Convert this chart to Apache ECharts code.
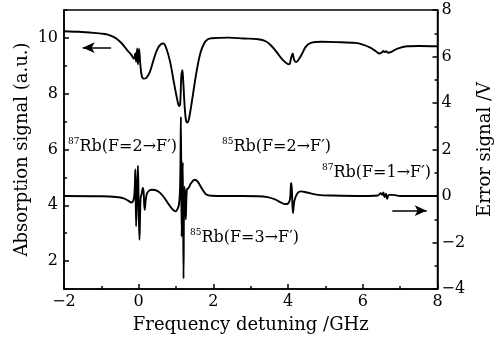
<!DOCTYPE html>
<html>
<head>
<meta charset="utf-8">
<script src="https://cdn.jsdelivr.net/npm/echarts@6/dist/echarts.min.js"></script>
<style>
html,body{margin:0;padding:0;background:#fff;}
#chart{width:502px;height:340px;}
</style>
</head>
<body>
<div id="chart"></div>
<script>
// Absorption signal (left axis)
var absX = [-2.0,-1.6,-1.2,-0.9,-0.75,-0.6,-0.45,-0.32,-0.2,-0.13,-0.09,-0.07,-0.04,-0.02,0.01,0.04,0.08,0.13,0.2,0.3,0.4,0.5,0.6,0.66,0.74,0.84,0.95,1.03,1.08,1.11,1.14,1.17,1.19,1.23,1.27,1.31,1.36,1.45,1.55,1.65,1.75,1.85,1.95,2.4,2.8,3.2,3.4,3.55,3.7,3.85,3.95,4.03,4.08,4.12,4.16,4.21,4.27,4.37,4.47,4.61,4.9,5.3,5.8,6.0,6.2,6.35,6.45,6.52,6.55,6.58,6.62,6.68,6.75,6.9,7.19,7.5,8.0];
var absY = [10.24,10.22,10.18,10.14,10.08,9.98,9.80,9.58,9.40,9.25,9.45,9.15,9.62,9.05,9.60,9.10,8.65,8.54,8.56,8.78,9.22,9.60,9.78,9.80,9.62,9.15,8.35,7.80,7.56,7.62,8.60,8.84,8.50,7.55,7.02,6.97,7.20,7.95,8.80,9.45,9.80,9.95,9.99,10.01,9.98,9.95,9.88,9.72,9.48,9.22,9.10,9.05,9.28,9.44,9.22,9.13,9.20,9.42,9.68,9.82,9.86,9.85,9.82,9.76,9.65,9.52,9.44,9.49,9.53,9.49,9.52,9.47,9.49,9.60,9.70,9.71,9.70];

// Error signal (right axis)
var errX = [-2.0,-1.0,-0.6,-0.4,-0.28,-0.2,-0.14,-0.11,-0.09,-0.07,-0.04,-0.02,0.0,0.02,0.05,0.08,0.11,0.13,0.16,0.22,0.35,0.5,0.65,0.8,0.92,0.99,1.04,1.08,1.11,1.13,1.15,1.18,1.20,1.22,1.24,1.26,1.29,1.34,1.4,1.5,1.58,1.68,1.8,1.95,2.5,3.2,3.45,3.65,3.8,3.92,4.0,4.05,4.08,4.1,4.13,4.17,4.25,4.35,4.5,4.8,5.2,6.0,6.4,6.48,6.52,6.55,6.58,6.62,6.65,6.7,6.8,7.0,8.0];
var errY = [0.0,-0.01,-0.04,-0.10,-0.20,-0.28,-0.18,0.2,1.15,-1.3,0.5,1.30,-0.6,-1.88,-0.1,0.1,0.35,0.2,-0.59,0.1,0.27,0.22,0.0,-0.35,-0.6,-0.66,-0.55,-0.35,0.5,3.4,-1.75,1.45,-3.55,0.4,0.1,-1.0,0.27,0.35,0.55,0.70,0.62,0.35,0.08,0.01,0.0,-0.01,-0.05,-0.15,-0.27,-0.35,-0.32,-0.15,0.56,0.3,-0.73,-0.2,0.12,0.2,0.15,0.05,0.02,0.0,0.02,0.12,0.05,0.15,-0.05,0.1,-0.12,0.05,0.05,0.0,0.0];

// Axis tick labels
var leftCats = ['1','2','3','4','5','6','7','8','9','10','11'];
var leftShown = ['2','4','6','8','10'];

var FONT = 'DejaVu Serif';
function pairs(xs, ys){ var o=[]; for(var i=0;i<xs.length;i++) o.push([xs[i], ys[i]]); return o; }
function minus(v){ return String(v).replace('-', '\u2212'); }

var chart = echarts.init(document.getElementById('chart'), null, {renderer:'canvas'});
var grid = {left:64, right:58, top:10, bottom:51, show:true, borderColor:'#000', borderWidth:1.5, backgroundColor:'transparent'};
var lineStyleAxis = {color:'#000', width:1.5};
var txt = {color:'#000', fontFamily:FONT, fontSize:16};

var supRich = {
  sup:{fontFamily:FONT, fontSize:9, color:'#000', verticalAlign:'top', lineHeight:20, padding:[0,0,6,0]},
  n:{fontFamily:FONT, fontSize:16, color:'#000', lineHeight:20}
};

var option = {
  animation:false,
  backgroundColor:'#fff',
  grid: grid,
  xAxis: {
    type:'value', min:-2, max:8, interval:2,
    name:'Frequency detuning /GHz', nameLocation:'middle', nameGap:27,
    nameTextStyle:{color:'#000', fontFamily:FONT, fontSize:18},
    axisLine:{show:true, onZero:false, lineStyle:lineStyleAxis},
    axisTick:{show:true, inside:true, length:5, lineStyle:lineStyleAxis},
    minorTick:{show:true, splitNumber:2, length:3, lineStyle:{color:'#000', width:1.5}},
    axisLabel:Object.assign({margin:5, formatter:minus}, txt),
    splitLine:{show:false}, minorSplitLine:{show:false}
  },
  yAxis: [
    { // main left value axis (data mapping + name)
      type:'value', min:1, max:11, position:'left',
      name:'Absorption signal (a.u.)', nameLocation:'middle', nameGap:33, nameRotate:90,
      nameTextStyle:{color:'#000', fontFamily:FONT, fontSize:18},
      axisLine:{show:true, onZero:false, lineStyle:lineStyleAxis},
      axisTick:{show:false}, axisLabel:{show:false}, splitLine:{show:false}
    },
    { // right axis
      type:'value', min:-4, max:8, interval:2, position:'right',
      name:'Error signal /V', nameLocation:'middle', nameGap:32, nameRotate:90,
      nameTextStyle:{color:'#000', fontFamily:FONT, fontSize:18},
      axisLine:{show:true, onZero:false, lineStyle:lineStyleAxis},
      axisTick:{show:true, inside:true, length:5, lineStyle:lineStyleAxis},
      minorTick:{show:true, splitNumber:2, length:3, lineStyle:{color:'#000', width:1.5}},
      axisLabel:Object.assign({margin:4, formatter:minus}, txt),
      splitLine:{show:false}, minorSplitLine:{show:false}
    },
    { // left major ticks + labels (category helper aligned with 1..11)
      type:'category', data:leftCats, boundaryGap:false, position:'left',
      axisLine:{show:false, onZero:false},
      axisTick:{show:true, inside:true, length:5, lineStyle:lineStyleAxis,
        interval:function(i, v){ return leftShown.indexOf(v) >= 0; }},
      axisLabel:Object.assign({margin:6,
        interval:function(i, v){ return leftShown.indexOf(v) >= 0; }}, txt),
      splitLine:{show:false}
    },
    { // left minor ticks at odd values (0..10 spans the same pixels as 1..11)
      type:'value', min:0, max:10, interval:2, position:'left',
      axisLine:{show:false, onZero:false},
      axisTick:{show:true, inside:true, length:3, lineStyle:lineStyleAxis},
      axisLabel:{show:false}, splitLine:{show:false}
    }
  ],
  series: [
    {
      type:'line', name:'Absorption', yAxisIndex:0, data:pairs(absX, absY),
      showSymbol:false, smooth:0.35,
      lineStyle:{color:'#000', width:1.9},
      markLine:{silent:true, symbol:['arrow','none'], symbolSize:[8,12],
        lineStyle:{color:'#000', width:1.5, type:'solid'}, label:{show:false},
        data:[[{coord:[-1.5, 9.65]}, {coord:[-0.74, 9.65]}]]}
    },
    {
      type:'line', name:'Error', yAxisIndex:1, data:pairs(errX, errY),
      showSymbol:false, smooth:0.35,
      lineStyle:{color:'#000', width:1.9},
      markLine:{silent:true, symbol:['none','arrow'], symbolSize:[8,12],
        lineStyle:{color:'#000', width:1.5, type:'solid'}, label:{show:false},
        data:[[{coord:[6.79, -0.63]}, {coord:[7.71, -0.63]}]]}
    }
  ],
  graphic: [
    {type:'text', left:68, top:137, style:{text:'{sup|87}{n|Rb(F=2\u2192F\u2032)}', rich:supRich}},
    {type:'text', left:222, top:137, style:{text:'{sup|85}{n|Rb(F=2\u2192F\u2032)}', rich:supRich}},
    {type:'text', left:322, top:163, style:{text:'{sup|87}{n|Rb(F=1\u2192F\u2032)}', rich:supRich}},
    {type:'text', left:190, top:228, style:{text:'{sup|85}{n|Rb(F=3\u2192F\u2032)}', rich:supRich}}
  ]
};
chart.setOption(option);
</script>
</body>
</html>
